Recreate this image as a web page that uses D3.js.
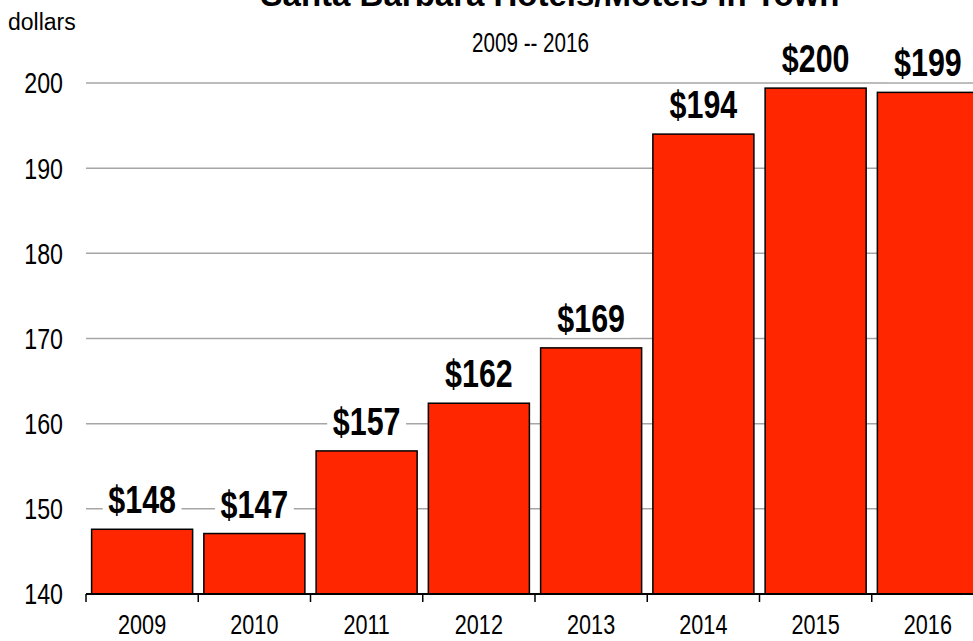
<!DOCTYPE html>
<html>
<head>
<meta charset="utf-8">
<script src="https://cdn.jsdelivr.net/npm/d3@7"></script>
<style>
  html, body { margin: 0; padding: 0; background: #fff; }
  svg { display: block; }
</style>
</head>
<body>
<div id="chart"></div>
<script>
const years = ["2009", "2010", "2011", "2012", "2013", "2014", "2015", "2016"];
const values = [147.6, 147.1, 156.8, 162.4, 168.9, 194.0, 199.4, 198.9];
const valueLabels = ["$148", "$147", "$157", "$162", "$169", "$194", "$200", "$199"];
const yTicks = [140, 150, 160, 170, 180, 190, 200];
const titleText = "Santa Barbara Hotels/Motels in Town";
const subtitleText = "2009 -- 2016";
const yAxisLabel = "dollars";

const W = 973, H = 641;
const font = "'Liberation Sans', Arial, sans-serif";

const svg = d3.select("#chart").append("svg")
  .attr("width", W).attr("height", H);

const x = d3.scaleBand().domain(years).range([86, 984])
  .paddingInner(0.1).paddingOuter(0.05);
const y = d3.scaleLinear().domain([140, 200]).range([594, 83]);
const step = x.step();

function placed(sel, fx, fy, sx) {
  return sel.attr("transform", (d, i) => `translate(${fx(d, i)},${fy(d, i)}) scale(${sx},1)`);
}

// gridlines
svg.append("g").selectAll("line")
  .data(yTicks.filter(t => t > 140))
  .join("line")
  .attr("x1", 86).attr("x2", W)
  .attr("y1", d => y(d)).attr("y2", d => y(d))
  .attr("stroke", "#a6a6a6").attr("stroke-width", 1.5);

// y tick labels
placed(svg.append("g").selectAll("text")
  .data(yTicks)
  .join("text"), () => 63, d => y(d), 0.8)
  .attr("dy", "0.36em")
  .attr("text-anchor", "end")
  .attr("font-family", font).attr("font-size", 29)
  .attr("fill", "#000")
  .text(d => d);

// bars
svg.append("g").selectAll("rect")
  .data(years.map((d, i) => ({ year: d, v: values[i] })))
  .join("rect")
  .attr("x", d => x(d.year))
  .attr("width", x.bandwidth())
  .attr("y", d => y(d.v))
  .attr("height", d => y(140) - y(d.v))
  .attr("fill", "#ff2600")
  .attr("stroke", "#000").attr("stroke-width", 1.5);

// value labels with white background
const lblG = svg.append("g");
const lbl = placed(lblG.selectAll("g")
  .data(years.map((d, i) => ({ year: d, v: values[i], label: valueLabels[i] })))
  .join("g"), d => x(d.year) + x.bandwidth() / 2, d => y(d.v) - 16, 0.8);
const rects = lbl.append("rect").attr("fill", "#fff");
const texts = lbl.append("text")
  .attr("text-anchor", "middle")
  .attr("font-family", font).attr("font-size", 38).attr("font-weight", "bold")
  .attr("fill", "#000")
  .text(d => d.label);
texts.each(function (d, i) {
  const bb = this.getBBox();
  const pad = 7;
  d3.select(rects.nodes()[i])
    .attr("x", bb.x - pad).attr("y", bb.y + 4)
    .attr("width", bb.width + 2 * pad).attr("height", bb.height - 6);
});

// x axis baseline and ticks
svg.append("line")
  .attr("x1", 86).attr("x2", W)
  .attr("y1", y(140)).attr("y2", y(140))
  .attr("stroke", "#000").attr("stroke-width", 2);
svg.append("g").selectAll("line")
  .data(years)
  .join("line")
  .attr("x1", d => x(d) - step * 0.05).attr("x2", d => x(d) - step * 0.05)
  .attr("y1", y(140)).attr("y2", y(140) + 8)
  .attr("stroke", "#000").attr("stroke-width", 1.5);

// x tick labels
placed(svg.append("g").selectAll("text")
  .data(years)
  .join("text"), d => x(d) + x.bandwidth() / 2, () => 634, 0.8)
  .attr("text-anchor", "middle")
  .attr("font-family", font).attr("font-size", 27)
  .attr("fill", "#000")
  .text(d => d);

// title, subtitle, axis label
svg.append("text")
  .attr("x", 550).attr("y", 6)
  .attr("text-anchor", "middle")
  .attr("font-family", font).attr("font-size", 33).attr("font-weight", "bold")
  .attr("fill", "#000")
  .text(titleText);
svg.append("text")
  .attr("transform", `translate(530.5,51.5) scale(0.75,1)`)
  .attr("text-anchor", "middle")
  .attr("font-family", font).attr("font-size", 27.5)
  .attr("fill", "#000")
  .text(subtitleText);
svg.append("text")
  .attr("x", 8).attr("y", 29.5)
  .attr("font-family", font).attr("font-size", 23)
  .attr("fill", "#000")
  .text(yAxisLabel);
</script>
</body>
</html>
